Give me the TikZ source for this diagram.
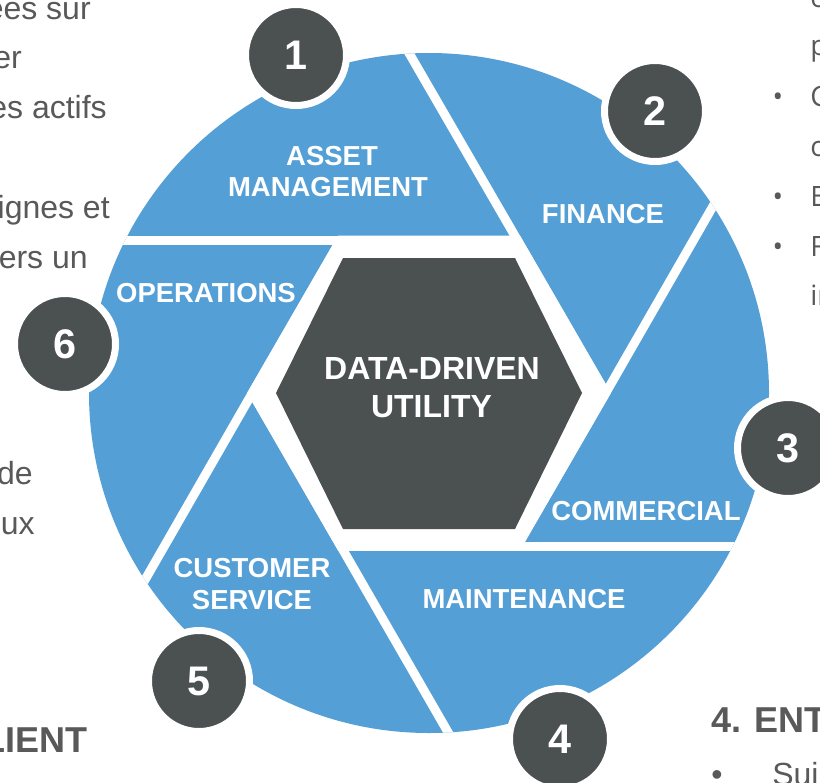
\documentclass[tikz,border=0pt]{standalone}
\usepackage{fontspec}
\setmainfont{Liberation Sans}
\newfontfamily\rfont{Open Sans}
\definecolor{blu}{RGB}{84,159,214}
\definecolor{drk}{RGB}{75,80,81}
\definecolor{txt}{RGB}{89,89,89}
\tikzset{
  gapline/.style={draw=white, line width=6.75pt, line cap=butt},
  numdisk/.style={fill=drk, draw=white, line width=5.25pt},
  numtext/.style={text=white, font=\bfseries\fontsize{31pt}{33pt}\selectfont, inner sep=0pt, anchor=center},
  lbl/.style={text=white, font=\bfseries\fontsize{20.6pt}{22pt}\selectfont, inner sep=0pt, anchor=center},
  ctr/.style={text=white, font=\bfseries\fontsize{24pt}{26pt}\selectfont, inner sep=0pt, anchor=center},
  ltxt/.style={text=txt, font=\fontsize{24pt}{26pt}\selectfont, inner sep=0pt, anchor=base east},
  rtxt/.style={text=txt, font=\rfont\fontsize{21pt}{23pt}\selectfont, inner sep=0pt, anchor=base west},
  htxt/.style={text=txt, font=\bfseries\fontsize{27pt}{29pt}\selectfont, inner sep=0pt},
}
\begin{document}
\begin{tikzpicture}[x=0.75pt,y=-0.75pt]
\useasboundingbox (0,0) rectangle (820,782);
\clip (0,0) rectangle (820,782);
\fill[white] (0,0) rectangle (820,782);

% centre and gap-line hexagon vertices
\coordinate (O) at (429,393);
\coordinate (vR) at (605.7,393);
\coordinate (vTR) at (517.3,240);
\coordinate (vTL) at (340.7,240);
\coordinate (vL) at (252.3,393);
\coordinate (vBL) at (340.7,546);
\coordinate (vBR) at (517.3,546);
% outer ends (beyond circle)
\coordinate (e1) at (95,240);
\coordinate (e2) at (398,34);
\coordinate (e3) at (724,187);
\coordinate (e4) at (765,546);
\coordinate (e5) at (460,753);
\coordinate (e6) at (134,599);

% blue disk
\fill[blu] (O) circle[radius=255pt];

% gaps between the six blades
\begin{scope}
\clip (O) circle[radius=255pt];
\draw[gapline] (vTR) -- (vTL) -- (e1);
\draw[gapline] (vR) -- (vTR) -- (e2);
\draw[gapline] (vBR) -- (vR) -- (e3);
\draw[gapline] (vBL) -- (vBR) -- (e4);
\draw[gapline] (vL) -- (vBL) -- (e5);
\draw[gapline] (vTL) -- (vL) -- (e6);
\end{scope}

% white inner hexagon
\fill[white] (610.9,393) -- (519.9,235.5) -- (338.1,235.5) -- (247.1,393) -- (338.1,550.5) -- (519.9,550.5) -- cycle;
% dark hexagon
\fill[drk] (582,393) -- (515,258) -- (343,258) -- (276,393) -- (343,529) -- (515,529) -- cycle;

\node[ctr] (c1) at (432,368.5) {DATA-DRIVEN};
\node[ctr] (c2) at (431.5,407) {UTILITY};

% blade labels
\node[lbl] (a1) at (332,156) {ASSET};
\node[lbl] (a2) at (328,187.5) {MANAGEMENT};
\node[lbl] (fi) at (603,214) {FINANCE};
\node[lbl] (co) at (646,511) {COMMERCIAL};
\node[lbl] (ma) at (524,599) {MAINTENANCE};
\node[lbl] (cs1) at (252,568) {CUSTOMER};
\node[lbl] (cs2) at (252,600) {SERVICE};
\node[lbl] (op) at (206,293) {OPERATIONS};

% number disks
\filldraw[numdisk] (296,55) circle[radius=37.875pt];
\node[numtext] (n1) at (296,55) {1};
\filldraw[numdisk] (655,111) circle[radius=37.875pt];
\node[numtext] (n2) at (655,111) {2};
\filldraw[numdisk] (788,448) circle[radius=37.875pt];
\node[numtext] (n3) at (788,448) {3};
\filldraw[numdisk] (560,739) circle[radius=37.875pt];
\node[numtext] (n4) at (560,739) {4};
\filldraw[numdisk] (199,681) circle[radius=37.875pt];
\node[numtext] (n5) at (199,681) {5};
\filldraw[numdisk] (65,344) circle[radius=37.875pt];
\node[numtext] (n6) at (65,344) {6};

% surrounding slide text (cut by the frame)
\node[ltxt] (l1) at (91,19) {ees sur};
\node[ltxt] (l2) at (22,68) {er};
\node[ltxt] (l3) at (107,118) {es actifs};
\node[ltxt] (l4) at (110,218) {ignes et};
\node[ltxt] (l5) at (88,268) {ers un};
\node[ltxt] (l6) at (33,484) {de};
\node[ltxt] (l7) at (35,534) {ux};
\node[htxt, anchor=base east] (l8) at (88,752) {LIENT};

\node[rtxt] (r0) at (810,7) {c};
\node[rtxt] (r1) at (810,55) {p};
\node[rtxt] (r2) at (810,106) {C};
\node[rtxt] (r3) at (810,156) {c};
\node[rtxt] (r4) at (810,206) {E};
\node[rtxt] (r5) at (810,256) {F};
\node[rtxt] (r6) at (810,305) {in};
\node[rtxt, anchor=base] (b2) at (778,106) {•};
\node[rtxt, anchor=base] (b4) at (778,206) {•};
\node[rtxt, anchor=base] (b5) at (778,256) {•};

\node[htxt, anchor=base west] (h4) at (711,732) {4. ENT};
\node[ltxt, anchor=base] (bb) at (717,785) {•};
\node[ltxt, anchor=base west] (su) at (772,785) {Sui};
\end{tikzpicture}
\end{document}
